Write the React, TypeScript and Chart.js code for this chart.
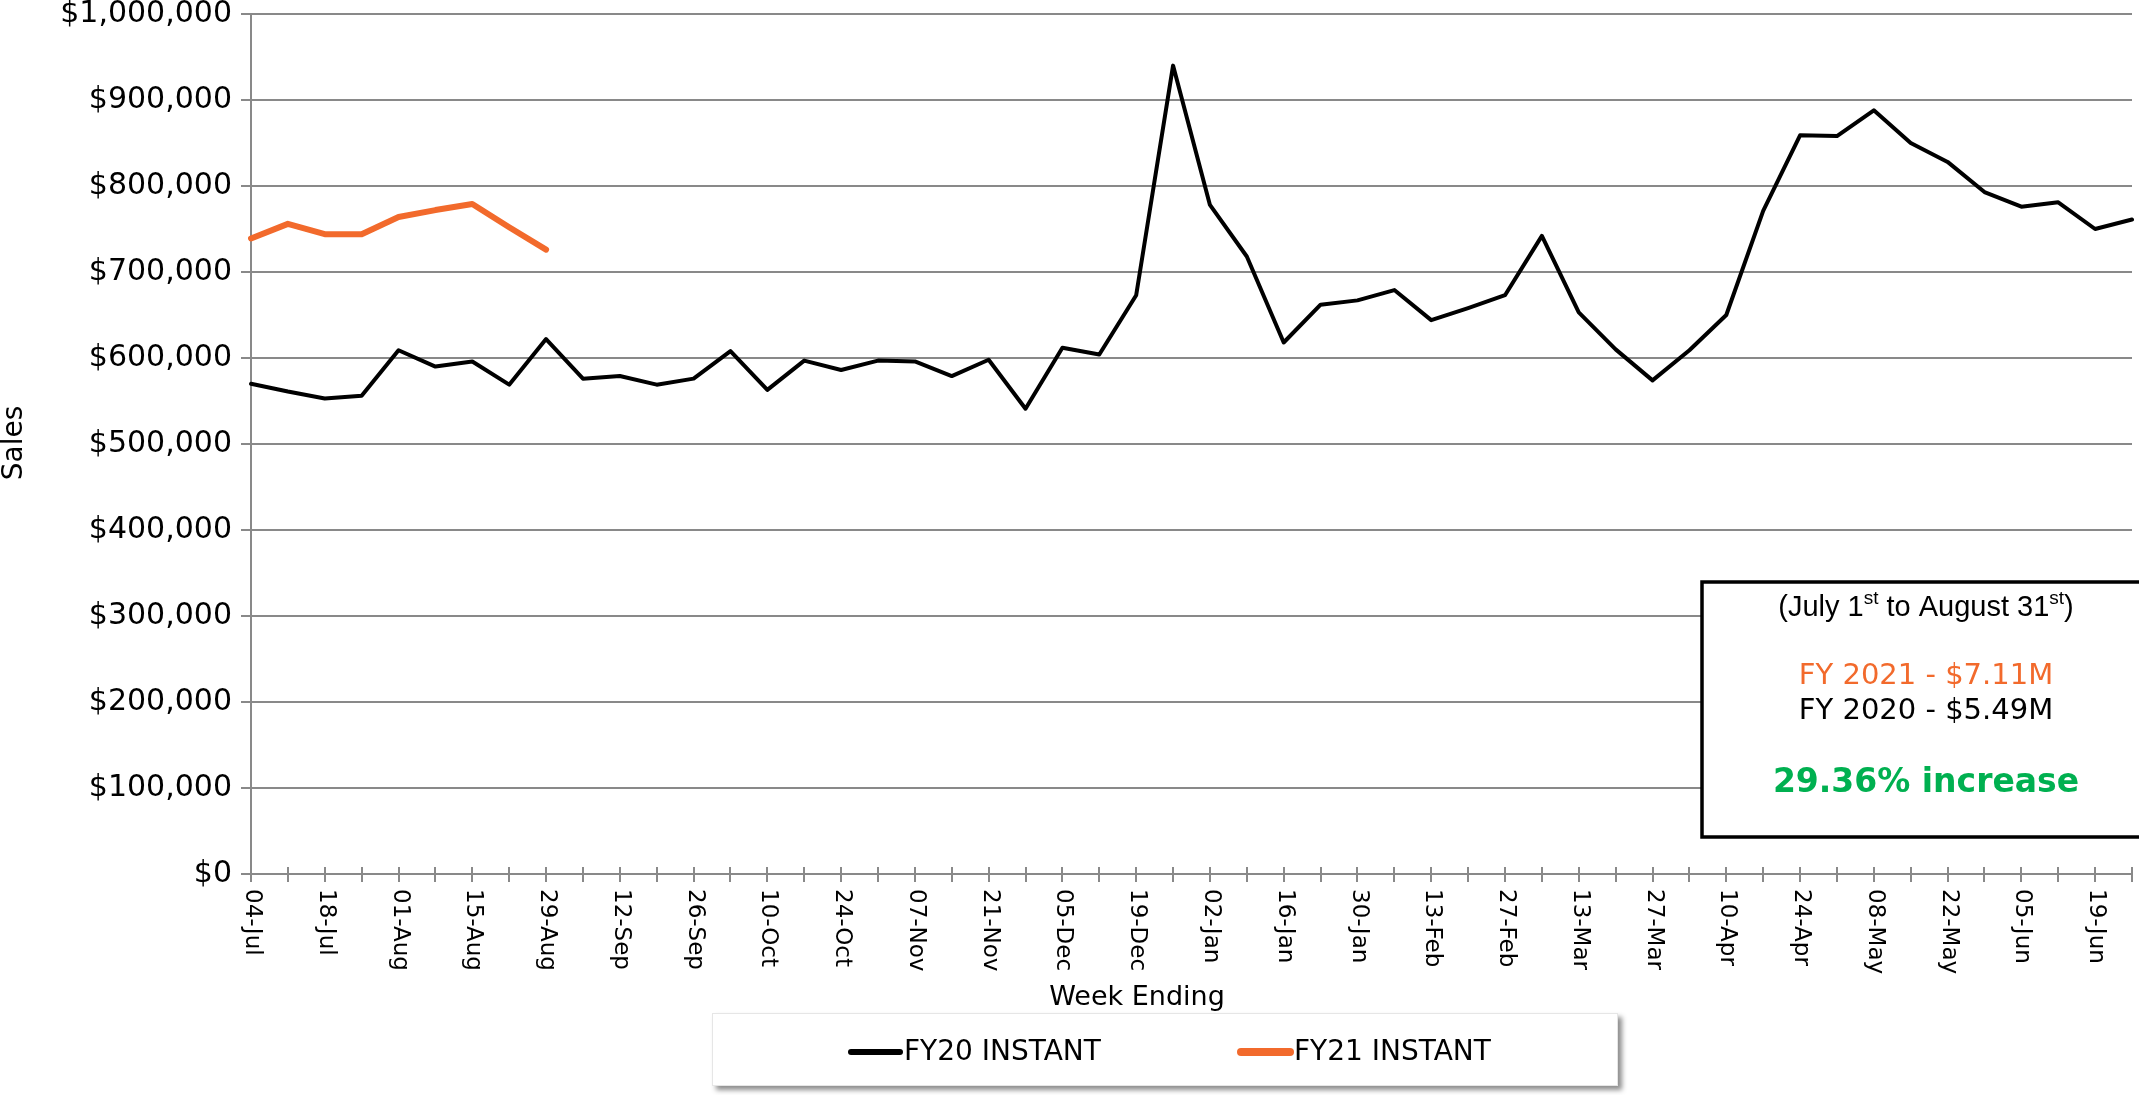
import React, { useEffect, useRef } from "react";
import { Chart, registerables } from "chart.js";

Chart.register(...registerables);

const weekLabels = [
  "04-Jul", "11-Jul", "18-Jul", "25-Jul", "01-Aug", "08-Aug", "15-Aug", "22-Aug", "29-Aug",
  "05-Sep", "12-Sep", "19-Sep", "26-Sep", "03-Oct", "10-Oct", "17-Oct", "24-Oct", "31-Oct",
  "07-Nov", "14-Nov", "21-Nov", "28-Nov", "05-Dec", "12-Dec", "19-Dec", "26-Dec",
  "02-Jan", "09-Jan", "16-Jan", "23-Jan", "30-Jan", "06-Feb", "13-Feb", "20-Feb", "27-Feb",
  "06-Mar", "13-Mar", "20-Mar", "27-Mar", "03-Apr", "10-Apr", "17-Apr", "24-Apr",
  "01-May", "08-May", "15-May", "22-May", "29-May", "05-Jun", "12-Jun", "19-Jun", "26-Jun",
];

const fy20Sales = [
  570000, 561000, 553000, 556000, 609000, 590000, 596000, 569000, 622000,
  576000, 579000, 569000, 576000, 608000, 563000, 597000, 586000, 597000,
  596000, 579000, 598000, 541000, 612000, 604000, 673000, 940000,
  778000, 718000, 618000, 662000, 667000, 679000, 644000, 658000, 673000,
  742000, 653000, 610000, 574000, 609000, 650000, 771000, 859000,
  858000, 888000, 850000, 828000, 793000, 776000, 781000, 750000, 761000,
];

const fy21Sales: (number | null)[] = [
  739000, 756000, 744000, 744000, 764000, 772000, 779000, 752000, 726000,
];

const seriesNames = ["FY20 INSTANT", "FY21 INSTANT"];
const xAxisTitle = "Week Ending";
const yAxisTitle = "Sales";
const summaryPeriod = ["(July 1", "st", " to August 31", "st", ")"];
const summaryFy21 = "FY 2021 - $7.11M";
const summaryFy20 = "FY 2020 - $5.49M";
const summaryChange = "29.36% increase";

const FONT = '"DejaVu Sans", Verdana, sans-serif';
const ARIAL = '"Liberation Sans", Arial, sans-serif';
const GRID = "#898989";
const ORANGE = "#F26A2C";
const GREEN = "#00B050";

const decorPlugin = {
  id: "decor",
  beforeDraw(chart: any) {
    const ctx = chart.ctx;
    ctx.save();
    ctx.fillStyle = "#ffffff";
    ctx.fillRect(0, 0, chart.width, chart.height);
    ctx.restore();
  },
  afterDraw(chart: any) {
    const ctx = chart.ctx;
    const xs = chart.scales.x;
    const area = chart.chartArea;
    ctx.save();

    // tick marks crossing above the axis
    ctx.strokeStyle = GRID;
    ctx.lineWidth = 2;
    for (let i = 0; i < xs.ticks.length; i++) {
      const px = Math.round(xs.getPixelForTick(i));
      ctx.beginPath();
      ctx.moveTo(px, area.bottom - 7);
      ctx.lineTo(px, area.bottom);
      ctx.stroke();
    }

    // x tick labels rotated clockwise (every other week)
    ctx.fillStyle = "#000";
    ctx.font = `23px ${FONT}`;
    ctx.textAlign = "left";
    ctx.textBaseline = "middle";
    for (let i = 0; i < xs.ticks.length; i += 2) {
      const px = xs.getPixelForTick(i);
      ctx.save();
      ctx.translate(px + 1, area.bottom + 15);
      ctx.rotate(Math.PI / 2);
      ctx.fillText(chart.data.labels[i], 0, 0);
      ctx.restore();
    }

    // axis titles
    ctx.font = `27px ${FONT}`;
    ctx.textAlign = "center";
    ctx.textBaseline = "alphabetic";
    ctx.fillText(xAxisTitle, 1137, 1005);
    ctx.save();
    ctx.translate(22, 443);
    ctx.rotate(-Math.PI / 2);
    ctx.font = `28px ${FONT}`;
    ctx.fillText(yAxisTitle, 0, 0);
    ctx.restore();

    // legend box
    ctx.save();
    ctx.shadowColor = "rgba(0,0,0,0.45)";
    ctx.shadowBlur = 5;
    ctx.shadowOffsetX = 4;
    ctx.shadowOffsetY = 4;
    ctx.fillStyle = "#ffffff";
    ctx.fillRect(712, 1013, 906, 73);
    ctx.restore();
    ctx.strokeStyle = "#e6e6e6";
    ctx.lineWidth = 1;
    ctx.strokeRect(712.5, 1013.5, 905, 72);

    const legendStarts = [848, 1238];
    ctx.font = `28px ${FONT}`;
    ctx.textAlign = "left";
    ctx.textBaseline = "middle";
    chart.data.datasets.forEach((ds: any, i: number) => {
      const x0 = legendStarts[i];
      const y0 = 1052;
      ctx.strokeStyle = ds.borderColor;
      ctx.lineWidth = ds.borderWidth + 2;
      ctx.lineCap = "round";
      ctx.beginPath();
      ctx.moveTo(x0 + 3, y0);
      ctx.lineTo(x0 + 52, y0);
      ctx.stroke();
      ctx.fillStyle = "#000";
      ctx.fillText(ds.label, x0 + 56, y0 + 1);
    });

    // summary box
    ctx.fillStyle = "#ffffff";
    ctx.fillRect(1702, 582, 460, 255);
    ctx.strokeStyle = "#000";
    ctx.lineWidth = 3.5;
    ctx.strokeRect(1702, 582, 460, 255);

    const cx = 1926;
    const bigFont = `29px ${ARIAL}`;
    const supFont = `19px ${ARIAL}`;
    let total = 0;
    const widths = summaryPeriod.map((t, i) => {
      ctx.font = i % 2 === 1 ? supFont : bigFont;
      const w = ctx.measureText(t).width;
      total += w;
      return w;
    });
    let x = cx - total / 2;
    ctx.textAlign = "left";
    ctx.textBaseline = "alphabetic";
    ctx.fillStyle = "#000";
    summaryPeriod.forEach((t, i) => {
      const sup = i % 2 === 1;
      ctx.font = sup ? supFont : bigFont;
      ctx.fillText(t, x, sup ? 604 : 616);
      x += widths[i];
    });

    ctx.textAlign = "center";
    ctx.font = `29px ${FONT}`;
    ctx.fillStyle = ORANGE;
    ctx.fillText(summaryFy21, cx, 684);
    ctx.fillStyle = "#000";
    ctx.fillText(summaryFy20, cx, 719);
    ctx.font = `bold 33px ${FONT}`;
    ctx.fillStyle = GREEN;
    ctx.fillText(summaryChange, cx, 792);

    ctx.restore();
  },
};

export default function App() {
  const canvasRef = useRef<HTMLCanvasElement | null>(null);

  useEffect(() => {
    document.body.style.margin = "0";
    const canvas = canvasRef.current;
    if (!canvas) return;
    const chart = new Chart(canvas, {
      type: "line",
      data: {
        labels: weekLabels,
        datasets: [
          {
            label: seriesNames[0],
            data: fy20Sales,
            borderColor: "#000000",
            backgroundColor: "#000000",
            borderWidth: 4,
            pointRadius: 0,
            tension: 0,
            borderJoinStyle: "round",
            borderCapStyle: "round",
            order: 2,
          },
          {
            label: seriesNames[1],
            data: fy21Sales,
            borderColor: ORANGE,
            backgroundColor: ORANGE,
            borderWidth: 6,
            pointRadius: 0,
            tension: 0,
            borderJoinStyle: "round",
            borderCapStyle: "round",
            order: 1,
          },
        ],
      },
      options: {
        animation: false,
        responsive: false,
        maintainAspectRatio: false,
        devicePixelRatio: 1,
        layout: { padding: { top: 14, right: 7, left: 0, bottom: 0 } },
        plugins: {
          legend: { display: false },
          tooltip: { enabled: false },
          title: { display: false },
        },
        scales: {
          x: {
            type: "category",
            offset: false,
            grid: {
              display: true,
              drawOnChartArea: false,
              drawTicks: true,
              tickLength: 8,
              color: GRID,
              lineWidth: 2,
            },
            border: { display: true, color: GRID, width: 2 },
            ticks: { display: false, autoSkip: false },
            afterFit(scale: any) {
              scale.height = 221;
              scale.paddingLeft = 0;
              scale.paddingRight = 0;
            },
          },
          y: {
            min: 0,
            max: 1000000,
            grid: {
              color: GRID,
              lineWidth: 2,
              drawTicks: true,
              tickLength: 10,
            },
            border: { display: true, color: GRID, width: 2 },
            ticks: {
              stepSize: 100000,
              padding: 9,
              color: "#000",
              font: { family: FONT, size: 30 },
              callback: (v: any) => "$" + Number(v).toLocaleString("en-US"),
            },
            afterFit(scale: any) {
              scale.width = 251;
              scale.paddingTop = 0;
              scale.paddingBottom = 0;
            },
          },
        },
      },
      plugins: [decorPlugin],
    });
    return () => chart.destroy();
  }, []);

  return (
    <div style={{ width: 2139, height: 1095 }}>
      <canvas ref={canvasRef} width={2139} height={1095} style={{ display: "block" }} />
    </div>
  );
}
